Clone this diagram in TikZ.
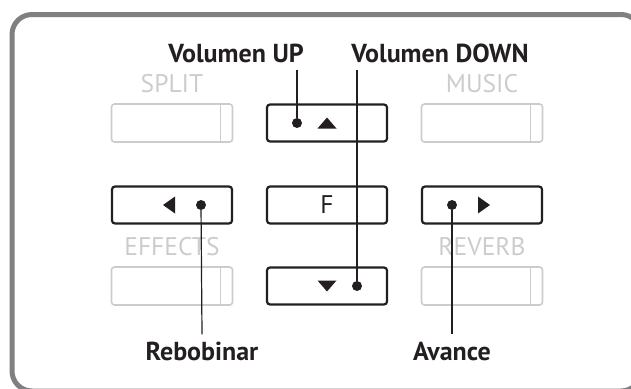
\documentclass[tikz,border=0pt]{standalone}
\usepackage{fontspec}
\setmainfont{PT Sans}
\definecolor{FrameGray}{RGB}{128,128,131}
\definecolor{KeyGray}{RGB}{204,204,204}
\definecolor{InkBlack}{RGB}{35,31,32}

\begin{document}
\begin{tikzpicture}[
    x=1pt, y=-1pt,
    key/.style={
        rectangle, rounded corners=3pt,
        draw=InkBlack, line width=2.2pt, outer sep=0pt,
        minimum width=120pt, minimum height=37pt,
        text=InkBlack, font=\fontsize{25.5}{26}\selectfont
    },
    offkey/.style={
        rectangle, rounded corners=3pt,
        draw=KeyGray, line width=1.6pt, outer sep=0pt,
        minimum width=121pt, minimum height=38pt
    },
    offlabel/.style={text=KeyGray, font=\fontsize{25.5}{26}\selectfont},
    callout/.style={text=InkBlack, inner sep=7pt, font=\bfseries\fontsize{26}{27}\selectfont},
    dot/.style={circle, fill=InkBlack, inner sep=0pt, minimum size=10pt},
    lead/.style={InkBlack, line width=1.2pt}
]
\useasboundingbox (0,0) rectangle (631,388);
\clip (0,0) rectangle (631,388);

\draw[FrameGray, line width=5pt, rounded corners=20pt] (12,14.5) rectangle (641,391);

\node[offkey] (split) at (172,123) {};
\node[key] (up) at (327,123) {};
\node[offkey] (music) at (482,123) {};
\node[key] (rew) at (172,205) {};
\node[key] (func) at (327,205) {F};
\node[key] (fwd) at (482,205) {};
\node[offkey] (effects) at (172,286) {};
\node[key] (down) at (327,286) {};
\node[offkey] (reverb) at (482,286) {};

\draw[KeyGray, line width=1.6pt] ([xshift=-12pt]split.north east) -- ([xshift=-12pt]split.south east);
\draw[KeyGray, line width=1.6pt] ([xshift=-12pt]music.north east) -- ([xshift=-12pt]music.south east);
\draw[KeyGray, line width=1.6pt] ([xshift=-12pt]effects.north east) -- ([xshift=-12pt]effects.south east);
\draw[KeyGray, line width=1.6pt] ([xshift=-12pt]reverb.north east) -- ([xshift=-12pt]reverb.south east);

\node[offlabel, anchor=base] (splitlbl) at (172,92) {SPLIT};
\node[offlabel, anchor=base] (musiclbl) at (482,92) {MUSIC};
\node[offlabel, anchor=base] (effectslbl) at (172,255) {EFFECTS};
\node[offlabel, anchor=base] (reverblbl) at (482,255) {REVERB};

\fill[InkBlack] ([yshift=5.5pt]up.center) -- ++(-9.5,11) -- ++(19,0) -- cycle;
\fill[InkBlack] ([yshift=-5.5pt]down.center) -- ++(-9.5,-11) -- ++(19,0) -- cycle;
\fill[InkBlack] ([xshift=-9pt]rew.center) -- ++(12,-8.5) -- ++(0,17) -- cycle;
\fill[InkBlack] ([xshift=8pt]fwd.center) -- ++(-12,-8.5) -- ++(0,17) -- cycle;

\node[dot] (updot) at ([xshift=-30pt]up.center) {};
\node[dot] (rewdot) at ([xshift=29pt]rew.center) {};
\node[dot] (fwddot) at ([xshift=-30pt]fwd.center) {};
\node[dot] (downdot) at ([xshift=30pt]down.center) {};

\node[callout, anchor=base] (volup) at (236,62) {Volumen UP};
\node[callout, anchor=base] (voldown) at (440,62) {Volumen DOWN};
\node[callout, anchor=base] (rewlbl) at (202,360) {Rebobinar};
\node[callout, anchor=base] (fwdlbl) at (452,360) {Avance};

\draw[lead] (volup.south -| updot) -- (updot);
\draw[lead] (voldown.south -| downdot) -- (downdot);
\draw[lead] (rewdot) -- (rewlbl.north);
\draw[lead] (fwddot) -- (fwdlbl.north);

\end{tikzpicture}
\end{document}
